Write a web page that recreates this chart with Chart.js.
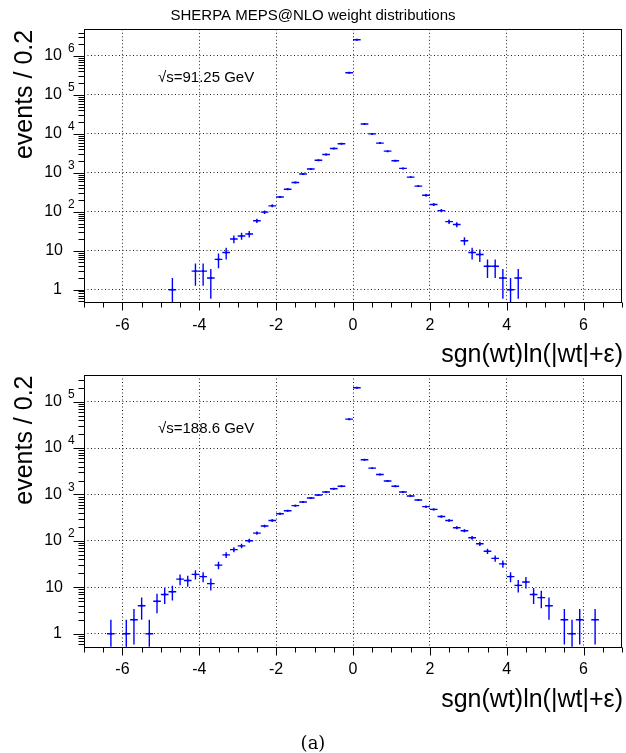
<!DOCTYPE html>
<html><head><meta charset="utf-8">
<script src="https://cdn.jsdelivr.net/npm/chart.js@4.4.0/dist/chart.umd.min.js"></script>
<style>
html,body{margin:0;padding:0;background:#fff;}
body{width:626px;height:753px;position:relative;overflow:hidden;}
#c1{position:absolute;left:0;top:0;}
#c2{position:absolute;left:0;top:346px;}
#cap{position:absolute;left:0;width:626px;top:732px;text-align:center;font-family:"DejaVu Serif","Liberation Serif",serif;font-size:18px;line-height:22px;color:#000;}
</style></head><body>
<canvas id="c1" width="626" height="370"></canvas>
<canvas id="c2" width="626" height="407"></canvas>
<div id="cap">(a)</div>
<script>
// ---- data ----
const chartTitle = 'SHERPA MEPS@NLO weight distributions';
const yTitle = 'events / 0.2';
const xTitle = 'sgn(wt)ln(|wt|+\u03b5)';
const xTickLabels = [-6, -4, -2, 0, 2, 4, 6];
const binWidth = 0.2;

const topLabel = '\u221as=91.25 GeV';
const topX = [-4.7, -4.1, -3.9, -3.7, -3.5, -3.3, -3.1, -2.9, -2.7, -2.5, -2.3, -2.1, -1.9, -1.7, -1.5, -1.3, -1.1, -0.9, -0.7, -0.5, -0.3, -0.1,
              0.1, 0.3, 0.5, 0.7, 0.9, 1.1, 1.3, 1.5, 1.7, 1.9, 2.1, 2.3, 2.5, 2.7, 2.9, 3.1, 3.3, 3.5, 3.7, 3.9, 4.1, 4.3];
const topY = [1, 3, 3, 2, 6, 9, 20, 24, 27, 59, 98, 142, 240, 380, 563, 930, 1260, 2100, 2950, 4200, 5600, 370000,
              2600000, 18000, 10000, 5800, 3600, 2050, 1300, 776, 456, 265, 154, 107, 56, 47, 18, 9, 8, 4, 4, 2, 1, 2];
const topDecades = [0, 1, 2, 3, 4, 5, 6];

const botLabel = '\u221as=188.6 GeV';
const botX = [-6.3, -5.9, -5.7, -5.5, -5.3, -5.1, -4.9, -4.7, -4.5, -4.3, -4.1, -3.9, -3.7, -3.5, -3.3, -3.1, -2.9, -2.7, -2.5, -2.3, -2.1,
              -1.9, -1.7, -1.5, -1.3, -1.1, -0.9, -0.7, -0.5, -0.3, -0.1,
              0.1, 0.3, 0.5, 0.7, 0.9, 1.1, 1.3, 1.5, 1.7, 1.9, 2.1, 2.3, 2.5, 2.7, 2.9, 3.1, 3.3, 3.5, 3.7, 3.9, 4.1, 4.3, 4.5,
              4.7, 4.9, 5.1, 5.5, 5.7, 5.9, 6.3];
const botY = [1, 1, 2, 4, 1, 5, 7, 8, 15, 14, 19, 17, 12, 30, 50, 65, 78, 101, 147, 209, 275,
              385, 445, 575, 690, 840, 975, 1130, 1330, 1500, 42000,
              200000, 5600, 3700, 2700, 1950, 1500, 1130, 930, 760, 547, 477, 335, 275, 192, 166, 117, 87, 60, 42, 32, 17, 11, 13,
              7, 6, 4, 2, 1, 2, 2];
const botDecades = [0, 1, 2, 3, 4, 5];

const FONT = '"Liberation Sans", Arial, Helvetica, sans-serif';
const BLUE = '#0000ff';

function makeChart(canvas, xs, ys, decades, ymin, ymax, opts) {
  const H = canvas.height;
  const plugin = {
    id: 'rootStyle',
    beforeDatasetsDraw(chart) {
      const ctx = chart.ctx, a = chart.chartArea;
      const sx = chart.scales.x, sy = chart.scales.y;
      ctx.save();
      ctx.beginPath(); ctx.rect(a.left, a.top, a.right - a.left, a.bottom - a.top); ctx.clip();
      ctx.strokeStyle = BLUE; ctx.lineWidth = 1.4;
      xs.forEach((x, i) => {
        const v = ys[i];
        const err = Math.sqrt(v);
        const px = sx.getPixelForValue(x), py = sy.getPixelForValue(v);
        const x1 = sx.getPixelForValue(x - binWidth / 2), x2 = sx.getPixelForValue(x + binWidth / 2);
        const lo = v - err, hi = v + err;
        const pLo = lo > 0 ? sy.getPixelForValue(lo) : a.bottom + 2;
        const pHi = sy.getPixelForValue(hi);
        ctx.beginPath();
        ctx.moveTo(x1, py); ctx.lineTo(x2, py);
        ctx.moveTo(px, pLo); ctx.lineTo(px, pHi);
        ctx.stroke();
      });
      ctx.restore();
    },
    afterDraw(chart) {
      const ctx = chart.ctx, a = chart.chartArea;
      const sx = chart.scales.x, sy = chart.scales.y;
      ctx.save();
      // frame
      ctx.strokeStyle = '#000'; ctx.lineWidth = 1;
      const L = Math.round(a.left) + 0.5, R = Math.round(a.right) - 0.5, T = Math.round(a.top) + 0.5, B = Math.round(a.bottom) + 0.5;
      ctx.strokeRect(L, T, R - L, B - T);
      // x ticks
      ctx.beginPath();
      for (let i = -14; i <= 14; i++) {
        const v = i / 2;
        const p = Math.round(sx.getPixelForValue(v)) + 0.5;
        const len = (i % 4 === 0) ? 8 : 5;
        ctx.moveTo(p, B); ctx.lineTo(p, B + len);
      }
      // y ticks
      const eMin = Math.floor(Math.log10(ymin)), eMax = Math.ceil(Math.log10(ymax));
      for (let e = eMin; e <= eMax; e++) {
        for (let m = 1; m <= 9; m++) {
          const v = m * Math.pow(10, e);
          if (v < ymin || v > ymax) continue;
          const p = Math.round(sy.getPixelForValue(v)) + 0.5;
          const len = m === 1 ? 11 : 6;
          ctx.moveTo(L, p); ctx.lineTo(L - len, p);
        }
      }
      ctx.stroke();
      ctx.fillStyle = '#000';
      // x tick labels
      ctx.font = '16px ' + FONT; ctx.textAlign = 'center'; ctx.textBaseline = 'middle';
      xTickLabels.forEach(v => ctx.fillText(String(v), sx.getPixelForValue(v), a.bottom + 23));
      // y tick labels
      decades.forEach(e => {
        const p = sy.getPixelForValue(Math.pow(10, e));
        ctx.textAlign = 'right'; ctx.textBaseline = 'middle'; ctx.font = '16px ' + FONT;
        if (e === 0) ctx.fillText('1', 62, p);
        else if (e === 1) ctx.fillText('10', 63, p);
        else {
          ctx.fillText('10', 62, p);
          ctx.textAlign = 'left'; ctx.font = '12px ' + FONT;
          ctx.fillText(String(e), 68, p - 7);
        }
      });
      // axis titles
      ctx.font = '25px ' + FONT;
      ctx.textAlign = 'right'; ctx.textBaseline = 'middle';
      ctx.fillText(xTitle, 623, a.bottom + 53);
      ctx.save();
      ctx.translate(32, a.top + 0.5); ctx.rotate(-Math.PI / 2);
      ctx.textAlign = 'right'; ctx.textBaseline = 'alphabetic';
      ctx.fillText(yTitle, 0, 0);
      ctx.restore();
      // annotation
      ctx.font = '15px ' + FONT; ctx.textAlign = 'left'; ctx.textBaseline = 'middle';
      ctx.fillText(opts.label, 158, a.top + opts.labelDy);
      if (opts.title) {
        ctx.font = '15px ' + FONT; ctx.textAlign = 'center'; ctx.textBaseline = 'middle';
        ctx.fillText(opts.title, 313, 16);
      }
      ctx.restore();
    }
  };
  return new Chart(canvas, {
    type: 'scatter',
    data: { datasets: [{ data: xs.map((x, i) => ({ x: x, y: ys[i] })), pointStyle: 'rect', pointRadius: 1.4, backgroundColor: BLUE, borderWidth: 0 }] },
    options: {
      responsive: false, animation: false, devicePixelRatio: 1,
      layout: { padding: { left: 84, right: 1, top: opts.top, bottom: H - opts.bottom } },
      plugins: { legend: { display: false }, tooltip: { enabled: false } },
      events: [],
      scales: {
        x: {
          type: 'linear', min: -7, max: 7,
          afterBuildTicks(s) { s.ticks = xTickLabels.map(v => ({ value: v })); },
          afterFit(s) { s.height = 0; },
          ticks: { display: false },
          grid: { color: '#222', lineWidth: 1, drawTicks: false },
          border: { display: false, dash: [1, 2.5] }
        },
        y: {
          type: 'logarithmic', min: ymin, max: ymax,
          afterBuildTicks(s) { s.ticks = decades.map(e => ({ value: Math.pow(10, e) })); },
          afterFit(s) { s.width = 0; },
          ticks: { display: false },
          grid: { color: '#222', lineWidth: 1, drawTicks: false },
          border: { display: false, dash: [1, 2.5] }
        }
      }
    },
    plugins: [plugin]
  });
}

makeChart(document.getElementById('c1'), topX, topY, topDecades, Math.pow(10, -0.3235), Math.pow(10, 6.685),
  { top: 29.3, bottom: 302.3, label: topLabel, labelDy: 49, title: chartTitle });
makeChart(document.getElementById('c2'), botX, botY, botDecades, Math.pow(10, -0.28), Math.pow(10, 5.575),
  { top: 29, bottom: 300.7, label: botLabel, labelDy: 54, title: null });
</script>
</body></html>
